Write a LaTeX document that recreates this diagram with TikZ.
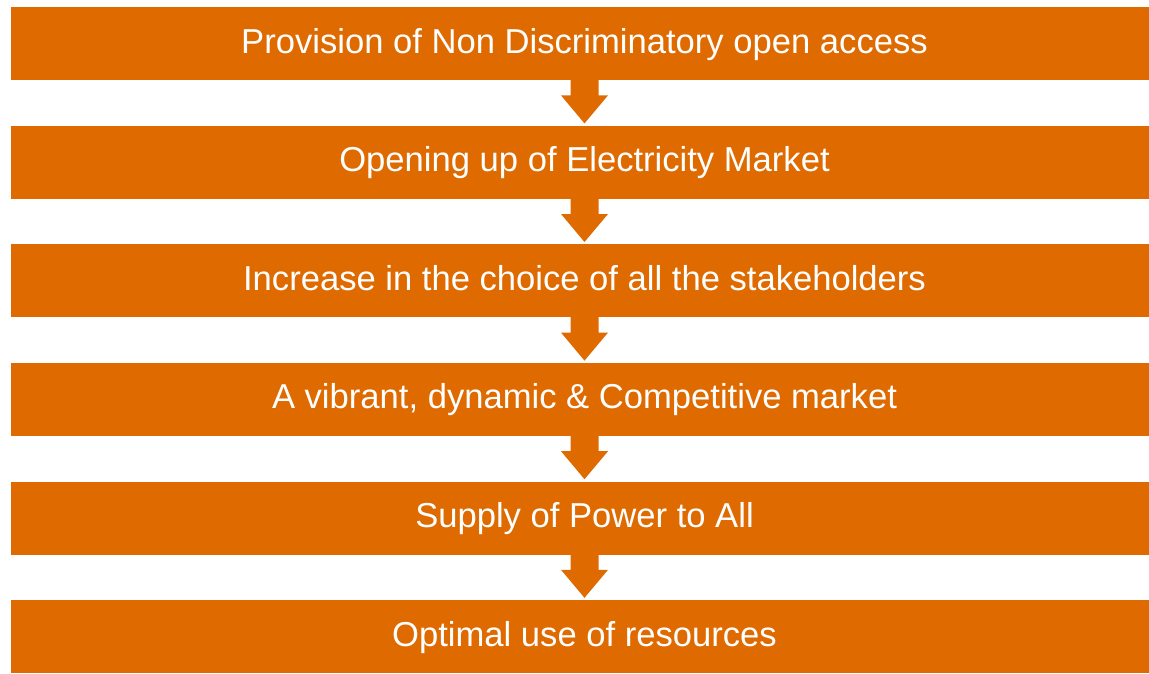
\documentclass[tikz,border=0pt]{standalone}
\usepackage{fontspec}
\setmainfont{Liberation Sans}
\usetikzlibrary{calc}
\definecolor{boxorange}{RGB}{222,106,0}
\begin{document}
\begin{tikzpicture}[x=1pt,y=-1pt,
  stagebox/.style={fill=boxorange,draw=none,minimum width=1138pt,minimum height=73pt,inner sep=0pt,anchor=north west},
  stagetext/.style={text=white,font=\fontsize{34.6}{40}\selectfont,anchor=base},
  flowarrow/.style={fill=boxorange,draw=none}]
\useasboundingbox (0,0) rectangle (1149,673);
\foreach \i/\t in {1/{Provision of Non Discriminatory open access},
                   2/{Opening up of Electricity Market},
                   3/{Increase in the choice of all the stakeholders},
                   4/{A vibrant, dynamic \& Competitive market},
                   5/{Supply of Power to All},
                   6/{Optimal use of resources}}{
  \pgfmathsetmacro{\top}{7+118.6*(\i-1)}
  \node[stagebox] (b\i) at (11,\top) {};
  \node[stagetext] (t\i) at (584.5,\top+46) {\t};
}
\foreach \i [evaluate=\i as \j using int(\i+1)] in {1,...,5}{
  \coordinate (s\i) at (b\i.south -| t\i.base);
  \coordinate (e\i) at ($(s\i)+(0,43)$);
  \fill[flowarrow] ($(s\i)+(-14,-0.5)$) -- ($(s\i)+(-14,15)$) -- ($(s\i)+(-23.5,15)$) -- (e\i)
    -- ($(s\i)+(23.5,15)$) -- ($(s\i)+(14,15)$) -- ($(s\i)+(14,-0.5)$) -- cycle;
}
\end{tikzpicture}
\end{document}
